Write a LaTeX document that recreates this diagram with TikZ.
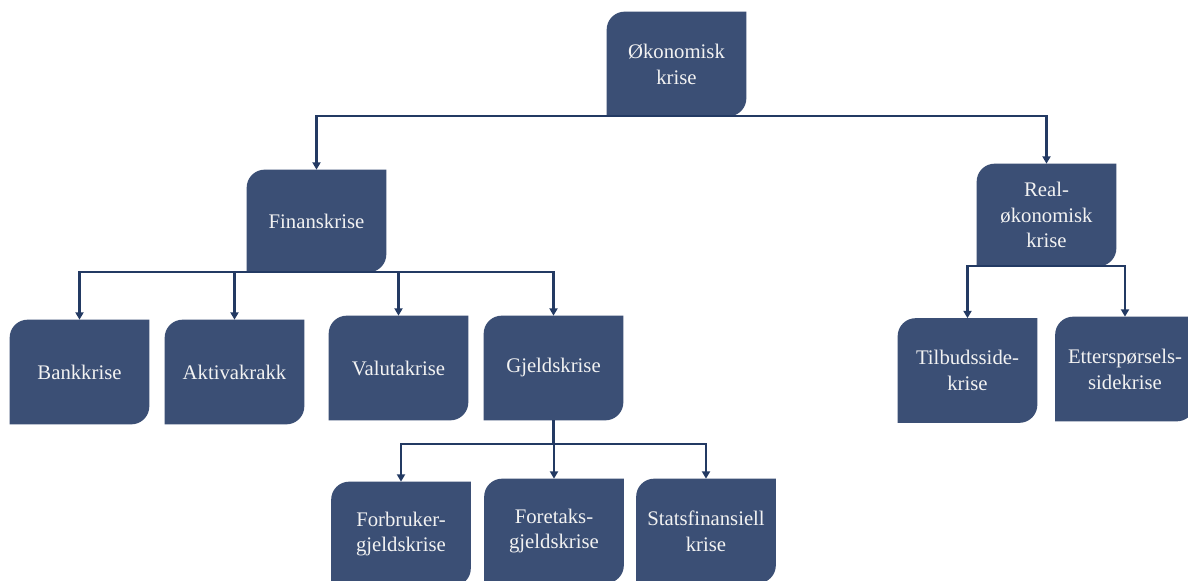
\documentclass[tikz,border=0pt]{standalone}
\usepackage{fontspec}
\setmainfont{Liberation Serif}
\usetikzlibrary{arrows.meta,backgrounds}
\definecolor{BoxFill}{HTML}{3B4F75}
\definecolor{BoxText}{HTML}{F2F2F2}
\definecolor{LinkMain}{HTML}{233A63}
\tikzset{
  every picture/.append style={>=Stealth},
  blk/.style={rectangle, inner sep=0pt, minimum width=2.78cm, minimum height=2.08cm,
              align=center, text=BoxText, font=\fontsize{11.8}{14.7}\selectfont},
  boxfill/.style={fill=BoxFill},
  flow/.style={-{Triangle[length=4.2pt,width=4.6pt]}, line width=1.2pt, draw=LinkMain},
}

\begin{document}
\begin{tikzpicture}[x=0.02cm,y=-0.02cm]
\useasboundingbox (0,0) rectangle (1188,581);
\clip (0,0) rectangle (1188,581);

% ---------------- top level -------------------------------------------------------
\node[blk] (oko) at (676.5,64) {Økonomisk\\krise};

% ---------------- second level ----------------------------------------------------
\node[blk, minimum height=2.04cm] (fin) at (316.5,221) {Finanskrise};
\node[blk, minimum height=2.04cm] (real) at (1046.5,215) {Real-\\økonomisk\\krise};

% ---------------- financial crises ------------------------------------------------
\node[blk] (bank) at (79.5,372) {Bankkrise};
\node[blk] (aktiva) at (234.5,372) {Aktivakrakk};
\node[blk] (valuta) at (398.5,368) {Valutakrise};
\node[blk] (gjeld) at (553.5,368) {Gjeldskrise};

% ---------------- debt crises -----------------------------------------------------
\node[blk] (forb) at (401,534) {Forbruker-\\gjeldskrise};
\node[blk] (foret) at (554,531) {Foretaks-\\gjeldskrise};
\node[blk] (stats) at (706,531) {Statsfinansiell\\krise};

% ---------------- real economy crises ---------------------------------------------
\node[blk] (tilb) at (967.5,370.5) {Tilbudsside-\\krise};
\node[blk] (etter) at (1125,369) {Etterspørsels-\\sidekrise};

% ---------------- box shapes ------------------------------------------------------
\begin{scope}[on background layer]
\fill[white] (0,0) rectangle (1188,581);
\foreach \nd in {oko,fin,real,bank,aktiva,valuta,gjeld,forb,foret,stats,tilb,etter}
  \fill[boxfill] (\nd.south west) -- ([yshift=-0.36cm]\nd.north west)
    arc[start angle=180, end angle=90, radius=0.36cm] -- (\nd.north east)
    -- ([yshift=0.36cm]\nd.south east)
    arc[start angle=0, end angle=-90, radius=0.36cm] -- cycle;
\end{scope}

% ---------------- connectors ------------------------------------------------------
\draw[flow] (oko.south) -| (fin.north);
\draw[flow] (oko.south) -| (real.north);
\foreach \ch in {bank,aktiva,valuta,gjeld}
  \draw[flow] (fin.south) -| (\ch.north);
\foreach \ch in {forb,foret,stats}
  \draw[flow] (gjeld.south) -- ++(0,24) -| (\ch.north);
\foreach \ch in {tilb,etter}
  \draw[flow] (real.south) -| (\ch.north);

\end{tikzpicture}
\end{document}
